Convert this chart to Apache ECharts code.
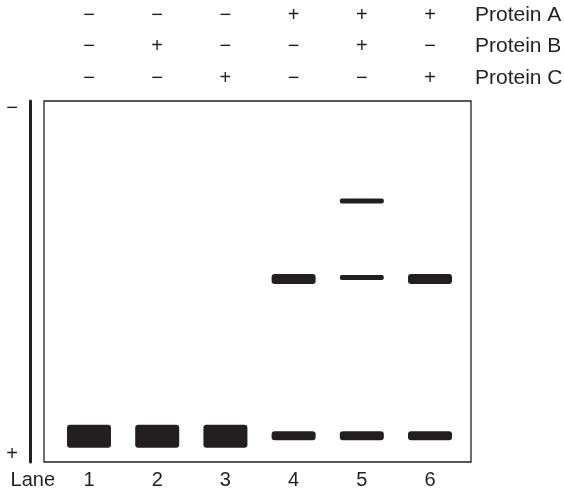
<!DOCTYPE html>
<html>
<head>
<meta charset="utf-8">
<script src="https://cdn.jsdelivr.net/npm/echarts@6/dist/echarts.min.js"></script>
<style>html,body{margin:0;padding:0;background:#fff;}#c{width:564px;height:493px;}</style>
</head>
<body>
<div id="c"></div>
<script>
// ---- data ----
const lanes = [1, 2, 3, 4, 5, 6];
const laneLabels = ['1', '2', '3', '4', '5', '6'];
const laneTitle = 'Lane';
const proteinA = ['−', '−', '−', '+', '+', '+'];
const proteinB = ['−', '+', '−', '−', '+', '−'];
const proteinC = ['−', '−', '+', '−', '−', '+'];
const electrodeTicks = [2, 98];
const electrodeLabels = ['−', '+'];
// band positions: [lane, migration % from well]
const freeProbeStrong = [[1, 92.9], [2, 92.9], [3, 92.9]];
const freeProbeReduced = [[4, 92.7], [5, 92.7], [6, 92.7]];
const complexBands = [[4, 49.3], [6, 49.3]];
const faintBands = [[5, 27.7], [5, 48.9]];

const ink = '#231f20';
const font = 'Liberation Sans, Arial, Helvetica, sans-serif';

function topAxis(values, name, offset) {
  return {
    type: 'value', position: 'top', offset: offset,
    min: 0.34, max: 6.601,
    axisLine: { show: false }, axisTick: { show: false }, splitLine: { show: false },
    axisLabel: {
      customValues: lanes, margin: 0, verticalAlign: 'middle',
      color: ink, fontFamily: font, fontSize: 20,
      formatter: v => values[lanes.indexOf(Math.round(v))]
    },
    name: name, nameLocation: 'end', nameGap: 4, nameMoveOverlap: false,
    nameTextStyle: { color: ink, fontFamily: font, fontSize: 21, align: 'left', verticalAlign: 'middle' }
  };
}

function bandSeries(data, h) {
  return {
    type: 'custom', xAxisIndex: 0, yAxisIndex: 0, data: data,
    silent: true, animation: false,
    renderItem: (params, api) => {
      const p = api.coord([api.value(0), api.value(1)]);
      return {
        type: 'rect',
        shape: { x: p[0] - 22, y: p[1] - h / 2, width: 44, height: h, r: Math.min(3, h / 2 - 0.5) },
        style: { fill: ink }
      };
    }
  };
}

const chart = echarts.init(document.getElementById('c'), null, { renderer: 'canvas' });
chart.setOption({
  animation: false,
  backgroundColor: '#fff',
  grid: { left: 44, top: 101, right: 93, bottom: 31, outerBoundsMode: 'none', containLabel: false, show: true, borderColor: ink, borderWidth: 1.3, backgroundColor: 'transparent' },
  graphic: [{
    type: 'text', x: 55, y: 480.5,
    style: { text: laneTitle, fill: ink, font: '20px ' + font, align: 'right', verticalAlign: 'middle' }
  }],
  xAxis: [
    {
      type: 'value', position: 'bottom', offset: 18,
      min: 0.34, max: 6.601,
      axisLine: { show: false }, axisTick: { show: false }, splitLine: { show: false },
      axisLabel: {
        customValues: lanes, margin: 0, verticalAlign: 'middle',
        color: ink, fontFamily: font, fontSize: 20,
        formatter: v => laneLabels[lanes.indexOf(Math.round(v))]
      }
    },
    topAxis(proteinC, 'Protein C', 23),
    topAxis(proteinB, 'Protein B', 55),
    topAxis(proteinA, 'Protein A', 86)
  ],
  yAxis: {
    type: 'value', inverse: true, min: 0, max: 100, position: 'left', offset: 14,
    axisLine: { show: true, lineStyle: { color: ink, width: 3 } },
    axisTick: { show: false }, splitLine: { show: false },
    axisLabel: {
      customValues: electrodeTicks, margin: 12,
      color: ink, fontFamily: font, fontSize: 20,
      formatter: v => electrodeLabels[electrodeTicks.indexOf(Math.round(v))]
    }
  },
  series: [
    bandSeries(freeProbeStrong, 23),
    bandSeries(freeProbeReduced, 9),
    bandSeries(complexBands, 10),
    bandSeries(faintBands, 5)
  ]
});
</script>
</body>
</html>
